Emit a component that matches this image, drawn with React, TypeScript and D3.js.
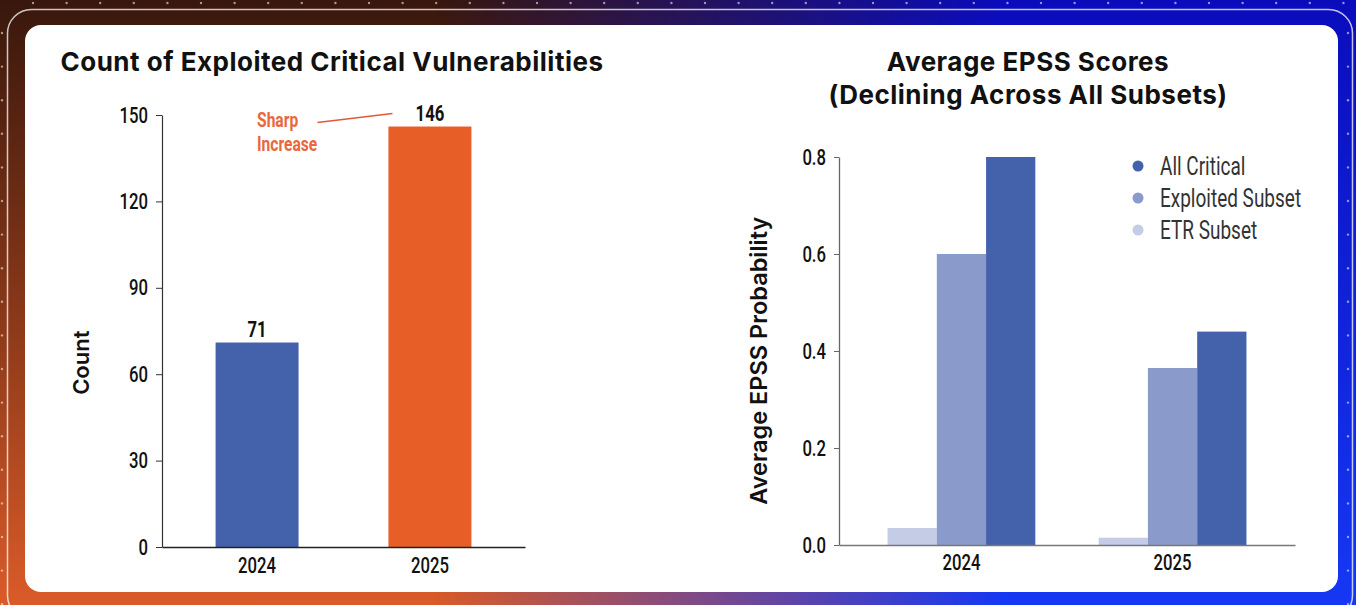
import React, { useEffect, useRef } from "react";
import * as d3 from "d3";

// Left panel: exploited critical vulnerability counts
const countYears = ["2024", "2025"];
const countValues = [71, 146];
const countTicks = [0, 30, 60, 90, 120, 150];

// Right panel: average EPSS probability per subset
const epssYears = ["2024", "2025"];
const epssSeries = ["ETR Subset", "Exploited Subset", "All Critical"];
const epssEtr = [0.035, 0.015];
const epssExploited = [0.6, 0.365];
const epssAllCritical = [0.8, 0.44];
const epssTicks = [0, 0.2, 0.4, 0.6, 0.8];
const legendOrder = ["All Critical", "Exploited Subset", "ETR Subset"];

const W = 1356;
const H = 605;
const NARROW = "Roboto, 'Noto Sans', sans-serif";
const SQUEEZE = 0.76; // horizontal squeeze giving a condensed face
const SANS = "Inter, 'Noto Sans', sans-serif";

const BLUE = "#4461ab";
const ORANGE = "#e85e27";
const seriesColor: Record<string, string> = {
  "All Critical": "#4461ab",
  "Exploited Subset": "#8a9bcb",
  "ETR Subset": "#c4cce6",
};

type Sel = d3.Selection<any, any, any, any>;

// condensed text: scale glyphs horizontally while keeping the anchor point in place
function narrow(g: Sel, x: number, y: number, str: string, size: number, weight = 400, fill = "#111", anchor = "start") {
  return g.append("text")
    .attr("x", x / SQUEEZE).attr("y", y)
    .attr("transform", `scale(${SQUEEZE},1)`)
    .attr("text-anchor", anchor)
    .attr("font-family", NARROW).attr("font-size", size).attr("font-weight", weight).attr("fill", fill)
    .text(str);
}

function narrowTicks(axis: Sel, size: number) {
  axis.selectAll<SVGTextElement, unknown>(".tick text")
    .attr("font-family", NARROW).attr("font-size", size).attr("font-weight", 500).attr("fill", "#111")
    .attr("x", function () { return +(this.getAttribute("x") || 0) / SQUEEZE; })
    .attr("transform", `scale(${SQUEEZE},1)`);
}

export default function App() {
  const ref = useRef<SVGSVGElement>(null);

  useEffect(() => {
    const svg = d3.select(ref.current);
    svg.selectAll("*").remove();

    // ---------- backdrop ----------
    const defs = svg.append("defs");
    const warm = defs.append("linearGradient").attr("id", "warm").attr("x1", 0).attr("y1", 0).attr("x2", 0).attr("y2", 1);
    warm.append("stop").attr("offset", "0%").attr("stop-color", "#38170c");
    warm.append("stop").attr("offset", "55%").attr("stop-color", "#8e3a1a");
    warm.append("stop").attr("offset", "100%").attr("stop-color", "#da5b28");
    const cool = defs.append("linearGradient").attr("id", "cool").attr("x1", 0).attr("y1", 0).attr("x2", 0).attr("y2", 1);
    cool.append("stop").attr("offset", "0%").attr("stop-color", "#0a0cbc");
    cool.append("stop").attr("offset", "100%").attr("stop-color", "#1538f5");
    const fade = defs.append("linearGradient").attr("id", "fade").attr("x1", 0).attr("y1", 0).attr("x2", 1).attr("y2", 0);
    fade.append("stop").attr("offset", "32%").attr("stop-color", "#fff").attr("stop-opacity", 0);
    fade.append("stop").attr("offset", "74%").attr("stop-color", "#fff").attr("stop-opacity", 1);
    defs.append("mask").attr("id", "coolMask").append("rect").attr("width", W).attr("height", H).attr("fill", "url(#fade)");

    svg.append("rect").attr("width", W).attr("height", H).attr("fill", "url(#warm)");
    svg.append("rect").attr("width", W).attr("height", H).attr("fill", "url(#cool)").attr("mask", "url(#coolMask)");

    // dotted frame
    const dots = svg.append("g").attr("fill", "#fff").attr("fill-opacity", 0.55);
    d3.range(33, W, 33.6).forEach((x) => dots.append("circle").attr("cx", x).attr("cy", 3).attr("r", 1.2));
    d3.range(33, H, 33.6).forEach((y) => {
      dots.append("circle").attr("cx", 2).attr("cy", y).attr("r", 1.2);
      dots.append("circle").attr("cx", 1348).attr("cy", y).attr("r", 1.2);
    });

    svg.append("rect").attr("x", 7.5).attr("y", 9.5).attr("width", 1345).attr("height", 610).attr("rx", 24)
      .attr("fill", "none").attr("stroke", "#fff").attr("stroke-opacity", 0.75).attr("stroke-width", 1.5);
    svg.append("rect").attr("x", 25).attr("y", 25).attr("width", 1313).attr("height", 567).attr("rx", 16).attr("fill", "#fff");

    // ---------- left chart ----------
    const left = svg.append("g");
    const x1 = d3.scaleBand<string>().domain(countYears).range([162, 525]).paddingInner(0.52).paddingOuter(0.31);
    const y1 = d3.scaleLinear().domain([0, 150]).range([547, 115]);

    left.append("text").attr("x", 332).attr("y", 71).attr("text-anchor", "middle")
      .attr("font-family", SANS).attr("font-weight", 700).attr("font-size", 26).attr("letter-spacing", 0.5).attr("fill", "#111")
      .text("Count of Exploited Critical Vulnerabilities");

    left.selectAll("rect.bar").data(countYears).join("rect").attr("class", "bar")
      .attr("x", (d) => x1(d)!).attr("width", x1.bandwidth())
      .attr("y", (_, i) => y1(countValues[i])).attr("height", (_, i) => y1(0) - y1(countValues[i]))
      .attr("fill", (_, i) => (i === 0 ? BLUE : ORANGE));

    countYears.forEach((yr, i) => {
      narrow(left, x1(yr)! + x1.bandwidth() / 2, y1(countValues[i]) - 6, String(countValues[i]), 22, 700, "#111", "middle");
    });

    const ay1 = left.append("g").attr("transform", "translate(162,0)")
      .call(d3.axisLeft(y1).tickValues(countTicks).tickSize(6).tickSizeOuter(0).tickPadding(8));
    ay1.select(".domain").attr("stroke", "#333").attr("stroke-width", 1.2);
    ay1.selectAll(".tick line").attr("stroke", "#333");
    narrowTicks(ay1, 22);

    const ax1 = left.append("g").attr("transform", "translate(0,547)")
      .call(d3.axisBottom(x1).tickSize(0).tickSizeOuter(0).tickPadding(10));
    ax1.select(".domain").attr("stroke", "#222").attr("stroke-width", 1.4);
    narrowTicks(ax1, 22);

    left.append("text").attr("transform", `translate(89,${y1(64)}) rotate(-90)`).attr("text-anchor", "middle")
      .attr("font-family", SANS).attr("font-weight", 600).attr("font-size", 22).attr("fill", "#111").text("Count");

    // callout on the 2025 jump
    const cx2025 = x1("2025")!;
    const noteX = x1("2024")! + x1.bandwidth() / 2;
    narrow(left, noteX, y1(146) + 0.5, "Sharp", 20.5, 700, "#e8683c");
    narrow(left, noteX, y1(146) + 24.5, "Increase", 20.5, 700, "#e8683c");
    left.append("line").attr("x1", cx2025 - 71).attr("y1", y1(146) - 4).attr("x2", cx2025 + 4).attr("y2", y1(146) - 13)
      .attr("stroke", "#e05a38").attr("stroke-width", 1.6);

    // ---------- right chart ----------
    const right = svg.append("g");
    const x2 = d3.scaleBand<string>().domain(epssYears).range([839, 1295]).paddingInner(0.3).paddingOuter(0.23);
    const xs = d3.scaleBand<string>().domain(epssSeries).range([0, x2.bandwidth()]);
    const y2 = d3.scaleLinear().domain([0, 0.8]).range([545, 157]);
    const valuesBySeries: Record<string, number[]> = {
      "ETR Subset": epssEtr,
      "Exploited Subset": epssExploited,
      "All Critical": epssAllCritical,
    };

    const title = right.append("text").attr("text-anchor", "middle")
      .attr("font-family", SANS).attr("font-weight", 700).attr("font-size", 26).attr("letter-spacing", 0.5).attr("fill", "#111");
    title.append("tspan").attr("x", 1028).attr("y", 71).text("Average EPSS Scores");
    title.append("tspan").attr("x", 1028).attr("y", 104).text("(Declining Across All Subsets)");

    epssYears.forEach((yr, i) => {
      right.append("g").selectAll("rect").data(epssSeries).join("rect")
        .attr("x", (s) => x2(yr)! + xs(s)!).attr("width", xs.bandwidth())
        .attr("y", (s) => y2(valuesBySeries[s][i])).attr("height", (s) => y2(0) - y2(valuesBySeries[s][i]))
        .attr("fill", (s) => seriesColor[s]);
    });

    const ay2 = right.append("g").attr("transform", "translate(839,0)")
      .call(d3.axisLeft(y2).tickValues(epssTicks).tickFormat(d3.format(".1f")).tickSize(5).tickSizeOuter(0).tickPadding(8));
    ay2.select(".domain").attr("stroke", "#666").attr("stroke-width", 1.3);
    ay2.selectAll(".tick line").attr("stroke", "#666");
    narrowTicks(ay2, 22);

    const ax2 = right.append("g").attr("transform", "translate(0,545)")
      .call(d3.axisBottom(x2).tickSize(0).tickSizeOuter(0).tickPadding(9));
    ax2.select(".domain").attr("stroke", "#777").attr("stroke-width", 1.6);
    narrowTicks(ax2, 22);

    right.append("text").attr("transform", `translate(767,${y2(0.38)}) rotate(-90)`).attr("text-anchor", "middle")
      .attr("font-family", SANS).attr("font-weight", 600).attr("font-size", 23.5).attr("fill", "#111").text("Average EPSS Probability");

    const legend = right.append("g").attr("transform", "translate(1138,166)");
    legendOrder.forEach((s, i) => {
      const row = legend.append("g").attr("transform", `translate(0,${i * 32})`);
      row.append("circle").attr("r", 5.5).attr("fill", seriesColor[s]);
      narrow(row, 22, 9, s, 25, 400, "#333");
    });
  }, []);

  return (
    <svg ref={ref} width={W} height={H} style={{ position: "absolute", left: 0, top: 0, display: "block" }} />
  );
}
